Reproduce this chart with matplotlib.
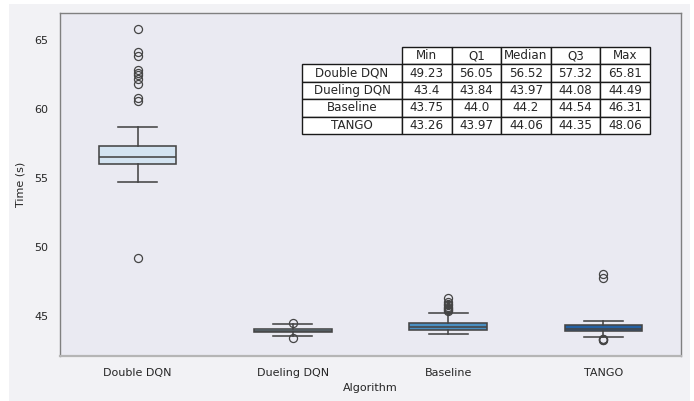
import matplotlib
matplotlib.use("Agg")
import matplotlib.pyplot as plt
from matplotlib.patches import Rectangle

# Run-time summary per algorithm (seconds)
ALGORITHMS = ["Double DQN", "Dueling DQN", "Baseline", "TANGO"]
MIN_T    = [49.23, 43.4, 43.75, 43.26]
Q1_T     = [56.05, 43.84, 44.0, 43.97]
MEDIAN_T = [56.52, 43.97, 44.2, 44.06]
Q3_T     = [57.32, 44.08, 44.54, 44.35]
MAX_T    = [65.81, 44.49, 46.31, 48.06]

# whisker ends (last point inside 1.5 IQR)
WHISK_LO = [54.71, 43.55, 43.75, 43.48]
WHISK_HI = [58.70, 44.42, 45.22, 44.66]

# points outside the whiskers
FLIERS = [
    [65.81, 64.11, 63.82, 62.79, 62.60, 62.43, 62.19, 61.83, 60.78, 60.58, 49.23],
    [44.49, 43.4],
    [46.31, 46.02, 45.90, 45.80, 45.70, 45.62, 45.55, 45.48, 45.42],
    [48.06, 47.76, 43.38, 43.33, 43.30, 43.26],
]

BOX_COLORS = ["#d3e3f1", "#94bcd8", "#4a8fc1", "#2561a3"]
LINE_COLOR = "#454545"
TEXT_COLOR = "#262626"

fig = plt.figure(figsize=(6.94, 4.01), dpi=100, facecolor="white")
fig.add_artist(Rectangle((9 / 694, 0), 681 / 694, 397 / 401,
                         transform=fig.transFigure, facecolor="#f2f2f5",
                         edgecolor="none", zorder=-10))
ax = fig.add_axes([60 / 694, 1 - 356 / 401, 621 / 694, 343 / 401])
ax.set_facecolor("#eaeaf2")

stats = []
for i, name in enumerate(ALGORITHMS):
    stats.append({"label": name, "med": MEDIAN_T[i], "q1": Q1_T[i], "q3": Q3_T[i],
                  "whislo": WHISK_LO[i], "whishi": WHISK_HI[i], "fliers": FLIERS[i]})

lw = 1.15
bp = ax.bxp(stats, positions=range(len(ALGORITHMS)), widths=0.5, patch_artist=True,
            boxprops=dict(edgecolor=LINE_COLOR, linewidth=lw),
            medianprops=dict(color=LINE_COLOR, linewidth=lw),
            whiskerprops=dict(color=LINE_COLOR, linewidth=lw),
            capprops=dict(color=LINE_COLOR, linewidth=lw),
            flierprops=dict(marker="o", markersize=5.8, markerfacecolor="none",
                            markeredgecolor=LINE_COLOR, markeredgewidth=0.9))
for patch, c in zip(bp["boxes"], BOX_COLORS):
    patch.set_facecolor(c)

ax.set_xlim(-0.5, len(ALGORITHMS) - 0.5)
ax.margins(y=0.05)
ax.set_yticks([45, 50, 55, 60, 65])
ax.tick_params(length=0, pad=8.5, labelsize=8, labelcolor=TEXT_COLOR)
ax.set_xlabel("Algorithm", fontsize=8, color=TEXT_COLOR, labelpad=4)
ax.set_ylabel("Time (s)", fontsize=8, color=TEXT_COLOR, labelpad=6)
ax.grid(False)
for side in ["left", "top", "right"]:
    ax.spines[side].set_color("#808080")
    ax.spines[side].set_linewidth(1.0)
ax.spines["bottom"].set_color("#b5b5b5")
ax.spines["bottom"].set_linewidth(1.6)

# summary table in the upper right
col_labels = ["", "Min", "Q1", "Median", "Q3", "Max"]
cell_text = []
for i, name in enumerate(ALGORITHMS):
    cell_text.append([name] + [str(v) for v in (MIN_T[i], Q1_T[i], MEDIAN_T[i], Q3_T[i], MAX_T[i])])

x0 = (302 - 60) / 621
x1 = (650 - 60) / 621
y0 = (356 - 134) / 343
y1 = (356 - 47) / 343
tbl = ax.table(cellText=cell_text, colLabels=col_labels, cellLoc="center",
               colWidths=[100, 49.6, 49.6, 49.6, 49.6, 49.6],
               bbox=[x0, y0, x1 - x0, y1 - y0])
tbl.auto_set_font_size(False)
tbl.set_fontsize(8.6)
for (r, c), cell in tbl.get_celld().items():
    cell.set_edgecolor("#1a1a1a")
    cell.set_linewidth(1.0)
    cell.get_text().set_color(TEXT_COLOR)
    if r == 0 and c == 0:
        cell.set_facecolor("none")
        cell.set_edgecolor("none")

fig.savefig("out.png", dpi=100, facecolor=fig.get_facecolor())
